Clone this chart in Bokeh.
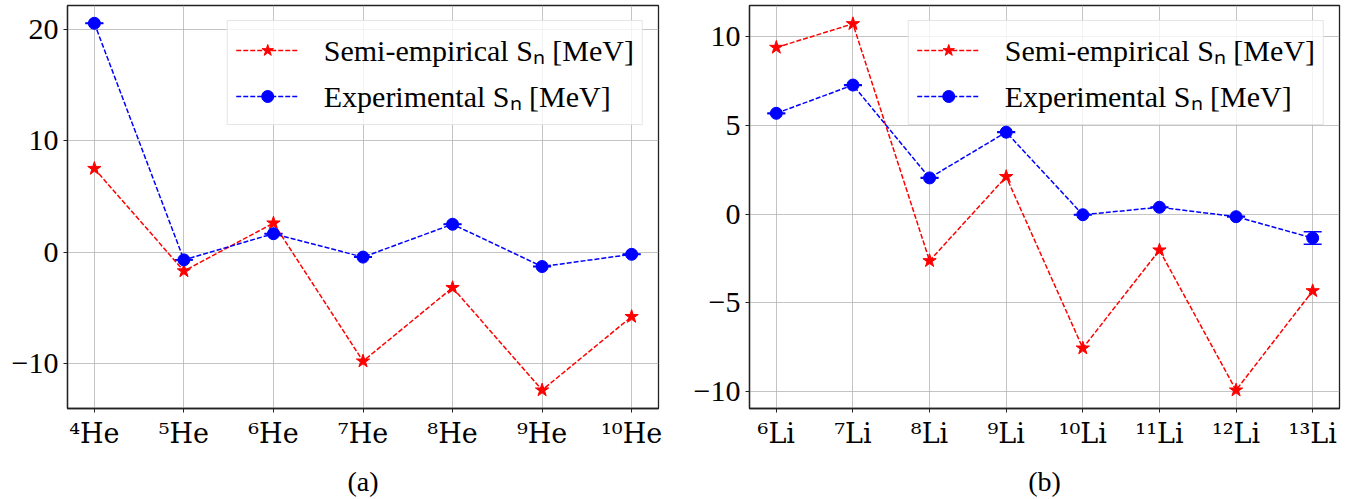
from bokeh.plotting import figure
from bokeh.layouts import row
from bokeh.models import (FixedTicker, Whisker, ColumnDataSource, Legend, LegendItem,
                          TeeHead, Range1d)
from bokeh.embed import file_html
from bokeh.resources import INLINE

# ---- data ----
he_labels = ["⁴He", "⁵He", "⁶He", "⁷He", "⁸He", "⁹He", "¹⁰He"]
he_semi = [7.5, -1.7, 2.6, -9.8, -3.2, -12.4, -5.8]
he_exp = [20.55, -0.7, 1.65, -0.45, 2.5, -1.3, -0.2]
he_err = [0.02, 0.02, 0.02, 0.02, 0.02, 0.02, 0.02]

li_labels = ["⁶Li", "⁷Li", "⁸Li", "⁹Li", "¹⁰Li", "¹¹Li", "¹²Li", "¹³Li"]
li_semi = [9.36, 10.69, -2.63, 2.1, -7.54, -2.03, -9.9, -4.32]
li_exp = [5.66, 7.25, 2.03, 4.6, -0.04, 0.38, -0.15, -1.35]
li_err = [0.02, 0.02, 0.02, 0.02, 0.02, 0.02, 0.02, 0.35]

he_yticks = [-10, 0, 10, 20]
li_yticks = [-10, -5, 0, 5, 10]

FONT = "Liberation Serif"
XFONT = "DejaVu Serif"


def make(labels, semi, exp, err, yticks, ymin, ymax, caption, fw, bl, br):
    n = len(labels)
    xs = list(range(n))
    pad = 0.05 * (n - 1)
    p = figure(frame_width=fw, frame_height=403, output_backend="svg", toolbar_location=None,
               x_range=Range1d(-pad, n - 1 + pad), y_range=Range1d(ymin, ymax),
               min_border_left=bl, min_border_right=br, min_border_top=5,
               min_border_bottom=80)
    p.background_fill_color = "white"
    p.outline_line_color = "#222222"
    p.outline_line_width = 1.3

    p.xaxis.ticker = FixedTicker(ticks=xs)
    p.xaxis.major_label_overrides = {i: lab for i, lab in enumerate(labels)}
    p.yaxis.ticker = FixedTicker(ticks=yticks)
    p.yaxis.major_label_overrides = {t: (("−" + str(-t)) if t < 0 else str(t)) for t in yticks}

    for ax in (p.xaxis, p.yaxis):
        ax.major_label_text_color = "black"
        ax.axis_line_color = "#222222"
        ax.axis_line_width = 1.3
        ax.major_tick_line_color = "#222222"
        ax.major_tick_out = 4
        ax.major_tick_in = 0
        ax.minor_tick_line_color = None
    p.yaxis.major_label_text_font = FONT
    p.yaxis.major_label_text_font_size = "30px"
    p.xaxis.major_label_text_font = XFONT
    p.xaxis.major_label_text_font_size = "27px"
    p.yaxis.major_label_standoff = 5
    p.xaxis.major_label_standoff = 5
    p.xaxis.axis_label = caption
    p.xaxis.axis_label_text_font = FONT
    p.xaxis.axis_label_text_font_size = "28px"
    p.xaxis.axis_label_text_font_style = "normal"
    p.xaxis.axis_label_text_color = "black"
    p.xaxis.axis_label_standoff = 14

    p.grid.grid_line_color = "#b0b0b0"
    p.grid.grid_line_alpha = 0.75
    p.grid.grid_line_width = 1

    r1 = p.line(xs, semi, line_color="red", line_dash="5 2", line_width=1.5)
    s1 = p.scatter(xs, semi, marker="star", size=14, fill_color="red", line_color="red")

    src = ColumnDataSource(dict(x=xs, up=[e + d for e, d in zip(exp, err)],
                                lo=[e - d for e, d in zip(exp, err)]))
    r2 = p.line(xs, exp, line_color="blue", line_dash="5 2", line_width=1.5)
    w = Whisker(source=src, base="x", upper="up", lower="lo", line_color="blue",
                line_width=1.5,
                upper_head=TeeHead(size=18, line_color="blue", line_width=1.5),
                lower_head=TeeHead(size=18, line_color="blue", line_width=1.5))
    p.add_layout(w)
    s2 = p.scatter(xs, exp, marker="circle", size=12, fill_color="blue", line_color="blue")

    leg = Legend(items=[LegendItem(label="Semi-empirical Sₙ [MeV]", renderers=[r1, s1]),
                        LegendItem(label="Experimental Sₙ [MeV]", renderers=[r2, s2])],
                 location="top_right")
    leg.label_text_font = FONT
    leg.label_text_font_size = "30px"
    leg.label_text_color = "black"
    leg.label_height = 30
    leg.glyph_width = 63
    leg.glyph_height = 30
    leg.label_standoff = 25
    leg.spacing = 5
    leg.padding = 8
    leg.margin = 15
    leg.border_line_color = "#cccccc"
    leg.border_line_width = 1
    leg.background_fill_alpha = 0.8
    p.add_layout(leg)
    return p


pa = make(he_labels, he_semi, he_exp, he_err, he_yticks, -14.05, 22.15, "(a)", 591, 67, 22)
pb = make(li_labels, li_semi, li_exp, li_err, li_yticks, -10.93, 11.72, "(b)", 590, 69, 4)

lay = row(pa, pb)
open("out.html", "w").write(file_html(lay, INLINE))
